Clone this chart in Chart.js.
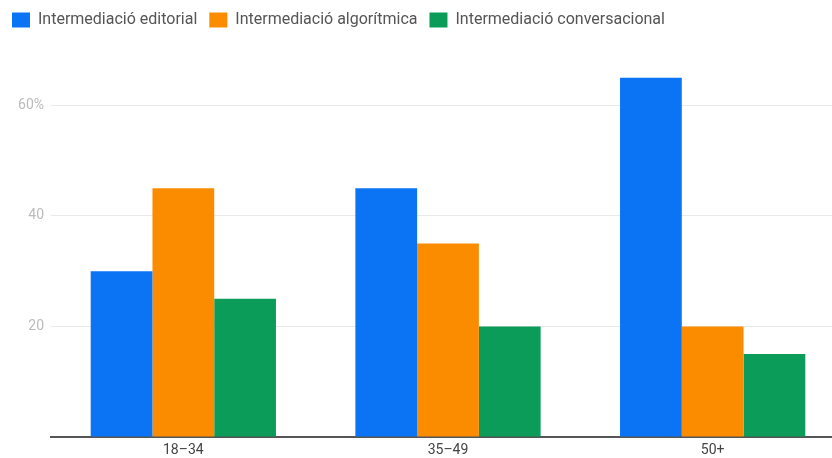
<!DOCTYPE html>
<html>
<head>
<meta charset="utf-8">
<script src="https://cdn.jsdelivr.net/npm/chart.js@4"></script>
<style>
    body { margin: 0; overflow: hidden; background: #fff; }
</style>
</head>
<body>
<canvas id="ageChart" width="845" height="458"></canvas>
<script>
// Data
const ageGroups = ['18–34', '35–49', '50+'];
const editorial = [30, 45, 65];
const algoritmica = [45, 35, 20];
const conversacional = [25, 20, 15];
const seriesNames = ['Intermediació editorial', 'Intermediació algorítmica', 'Intermediació conversacional'];
const seriesColors = ['#0b74f5', '#fb8c00', '#0b9c5a'];

// Force the legend block to a fixed height so the plot area starts where it should
const legendHeight = {
    id: 'legendHeight',
    beforeInit(chart) {
        const origFit = chart.legend.fit;
        chart.legend.fit = function() {
            origFit.call(this);
            this.height = 50;
        };
    }
};

const ctx = document.getElementById('ageChart').getContext('2d');
new Chart(ctx, {
    type: 'bar',
    data: {
        labels: ageGroups,
        datasets: [
            { label: seriesNames[0], data: editorial, backgroundColor: seriesColors[0] },
            { label: seriesNames[1], data: algoritmica, backgroundColor: seriesColors[1] },
            { label: seriesNames[2], data: conversacional, backgroundColor: seriesColors[2] }
        ]
    },
    options: {
        responsive: false,
        animation: false,
        datasets: {
            bar: { categoryPercentage: 0.7, barPercentage: 1.0 }
        },
        layout: { padding: { top: 0, left: 0, right: 0, bottom: 0 } },
        plugins: {
            tooltip: { enabled: false },
            legend: {
                position: 'top',
                align: 'start',
                labels: {
                    boxWidth: 18,
                    boxHeight: 15,
                    padding: 12,
                    color: '#555',
                    font: { family: 'Roboto', size: 16 }
                }
            }
        },
        scales: {
            x: {
                grid: { display: false, drawTicks: false },
                border: { color: '#555', width: 2 },
                ticks: {
                    color: '#444',
                    padding: 5,
                    font: { family: 'Roboto', size: 14 }
                },
                afterFit: function(scale) { scale.height = 21; }
            },
            y: {
                min: 0,
                max: 70,
                border: { display: false },
                grid: { color: '#e9e9e9', drawTicks: false },
                ticks: {
                    stepSize: 20,
                    includeBounds: false,
                    padding: 7,
                    color: '#bbb',
                    font: { family: 'Roboto', size: 14 },
                    callback: function(value) {
                        if (value === 0) return '';
                        return value === 60 ? value + '%' : value;
                    }
                },
                afterFit: function(scale) { scale.width = 51; }
            }
        }
    },
    plugins: [legendHeight]
});
</script>
</body>
</html>
